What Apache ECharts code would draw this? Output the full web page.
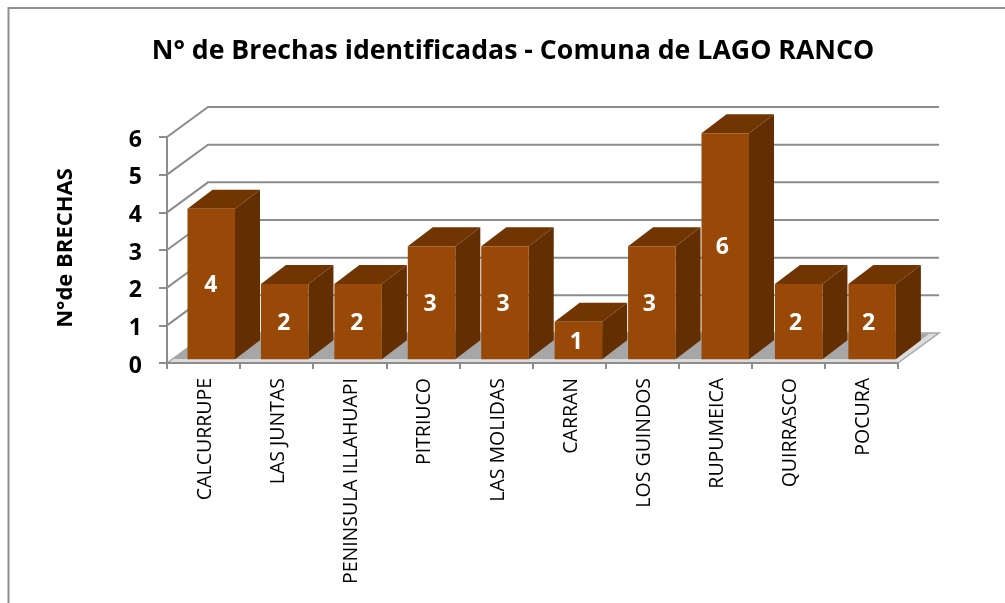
<!DOCTYPE html>
<html>
<head>
<meta charset="utf-8">
<style>
  html, body { margin: 0; padding: 0; background: #fff; }
  #chart { width: 1005px; height: 603px; }
</style>
<script src="https://cdn.jsdelivr.net/npm/echarts@6/dist/echarts.min.js"></script>
</head>
<body>
<div id="chart"></div>
<script>
const categories = ['CALCURRUPE', 'LAS JUNTAS', 'PENINSULA ILLAHUAPI', 'PITRIUCO', 'LAS MOLIDAS', 'CARRAN', 'LOS GUINDOS', 'RUPUMEICA', 'QUIRRASCO', 'POCURA'];
const brechas = [4, 2, 2, 3, 3, 1, 3, 6, 2, 2];
const ticks = [0, 1, 2, 3, 4, 5, 6];

// fake 3d: how far the back wall and the bars are pushed
const WALL_DX = 41, WALL_DY = -30;
const BAR_DX = 25, BAR_DY = -19;
const BAR_W = 47.5, BAR_SHIFT_X = 7.7, BAR_SHIFT_Y = -3.7;
const FONT = '"Open Sans"';

function poly(points, fill) {
  return { type: 'polygon', shape: { points: points }, style: { fill: fill } };
}

function renderWall(params, api) {
  const sys = params.coordSys;
  const y = api.coord([0, api.value(0)])[1];
  // the floor draws its own edge, so no wall line for 0
  if (api.value(0) === 0) return null;
  return {
    type: 'polyline',
    shape: { points: [[sys.x, y], [sys.x + WALL_DX, y + WALL_DY], [sys.x + sys.width + WALL_DX, y + WALL_DY]] },
    style: { stroke: '#8c8c8c', lineWidth: 2, fill: null }
  };
}

function renderFloor(params, api) {
  const sys = params.coordSys;
  const y = sys.y + sys.height;
  const x = sys.x, r = sys.x + sys.width;
  return {
    type: 'group',
    children: [
      poly([[x, y], [r, y], [r + WALL_DX, y + WALL_DY], [x + WALL_DX, y + WALL_DY]], '#dcdcdc'),
      poly([[x + 5, y - 4], [r - 4, y - 4], [r + WALL_DX - 10, y + WALL_DY + 1], [x + WALL_DX, y + WALL_DY + 1]], '#a6a6a6'),
      {
        type: 'polyline',
        shape: { points: [[x, y], [x + WALL_DX, y + WALL_DY], [r + WALL_DX, y + WALL_DY], [r, y]] },
        style: { stroke: '#a6a6a6', lineWidth: 1.5, fill: null }
      }
    ]
  };
}

function renderBar(params, api) {
  const top = api.coord([api.value(0), api.value(1)]);
  const base = api.coord([api.value(0), 0]);
  // bars drift a little to the right of their axis band, as in the original
  const left = top[0] - BAR_W / 2 + BAR_SHIFT_X + api.value(0) * 0.33;
  const right = left + BAR_W;
  const yTop = top[1] + BAR_SHIFT_Y;
  const yBase = base[1] + BAR_SHIFT_Y;
  return {
    type: 'group',
    children: [
      poly([[left, yTop], [right, yTop], [right + BAR_DX, yTop + BAR_DY], [left + BAR_DX, yTop + BAR_DY]], '#713502'),
      poly([[right, yTop], [right + BAR_DX, yTop + BAR_DY], [right + BAR_DX, yBase + BAR_DY], [right, yBase]], '#622e02'),
      { type: 'rect', shape: { x: left, y: yTop, width: BAR_W, height: yBase - yTop }, style: { fill: '#984807' } },
      {
        type: 'text',
        x: top[0] + BAR_SHIFT_X - 0.5,
        y: (yTop + yBase) / 2 + 1.5,
        style: {
          text: String(api.value(1)),
          fill: '#fff',
          font: 'bold 23px ' + FONT,
          align: 'center',
          verticalAlign: 'middle'
        }
      }
    ]
  };
}

const chart = echarts.init(document.getElementById('chart'), null, { renderer: 'canvas' });
chart.setOption({
  animation: false,
  backgroundColor: '#fff',
  title: {
    text: 'N° de Brechas identificadas - Comuna de LAGO RANCO',
    left: 508,
    top: 33,
    textAlign: 'center',
    textStyle: { fontFamily: FONT, fontWeight: 'bold', fontSize: 26.7, color: '#000' }
  },
  graphic: [
    { type: 'polyline', silent: true, z: -1, shape: { points: [[8.5, 603], [8.5, 8], [1005, 8]] }, style: { stroke: '#8f8f8f', lineWidth: 2, fill: null } }
  ],
  grid: { left: 167, right: 107, top: 137, bottom: 240 },
  xAxis: {
    type: 'category',
    data: categories,
    axisLine: { lineStyle: { color: '#8c8c8c', width: 2 } },
    axisTick: { show: true, length: 6, lineStyle: { color: '#8c8c8c', width: 2 } },
    axisLabel: {
      rotate: 90,
      interval: 0,
      margin: 15,
      fontFamily: FONT,
      fontSize: 19.5,
      color: '#000',
      // small line box nudges the rotated text right of the band centre
      verticalAlign: 'top',
      lineHeight: 4
    },
    z: 5
  },
  yAxis: {
    type: 'value',
    min: 0,
    max: 6,
    interval: 1,
    name: 'N°de BRECHAS',
    nameLocation: 'middle',
    nameRotate: 90,
    nameGap: 90,
    nameTextStyle: { fontFamily: FONT, fontWeight: 'bold', fontSize: 22, color: '#000', padding: [0, 0, 0, 4] },
    axisLine: { show: true, lineStyle: { color: '#8c8c8c', width: 2 } },
    axisTick: { show: true, length: 8, lineStyle: { color: '#8c8c8c', width: 2 } },
    axisLabel: { margin: 25, fontFamily: FONT, fontWeight: 'bold', fontSize: 23, color: '#000', verticalAlign: 'top', lineHeight: 6 },
    splitLine: { show: false }
  },
  series: [
    { type: 'custom', name: 'pared', data: ticks.map(function (t) { return [t]; }), encode: { y: 0 }, renderItem: renderWall, clip: false, silent: true, z: 1 },
    { type: 'custom', name: 'piso', data: [[0]], encode: { y: 0 }, renderItem: renderFloor, clip: false, silent: true, z: 2 },
    { type: 'custom', name: 'Brechas', data: brechas.map(function (v, i) { return [i, v]; }), encode: { x: 0, y: 1 }, renderItem: renderBar, clip: false, z: 3 }
  ]
});
</script>
</body>
</html>
